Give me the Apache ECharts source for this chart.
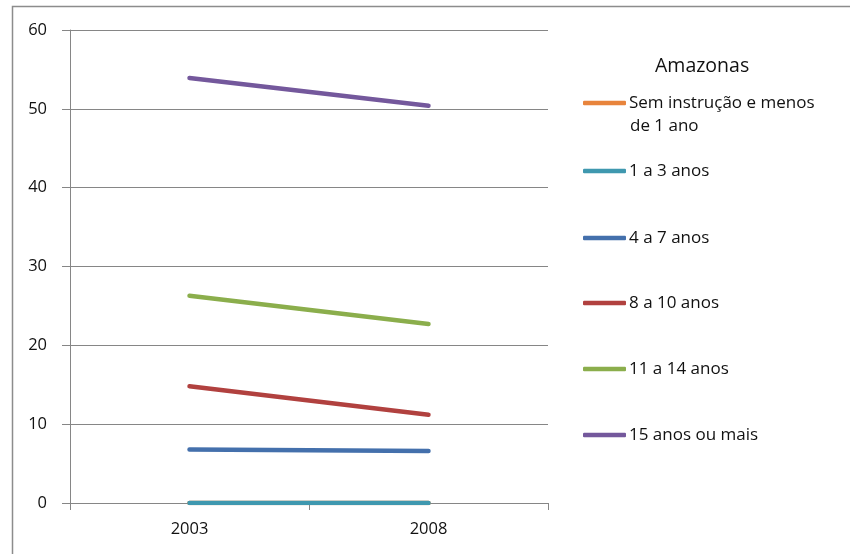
<!DOCTYPE html>
<html>
<head>
<meta charset="utf-8">
<script src="https://cdn.jsdelivr.net/npm/echarts@6/dist/echarts.min.js"></script>
<style>html,body{margin:0;padding:0;background:#fff;}#c{width:850px;height:554px;}</style>
</head>
<body>
<div id="c"></div>
<script>
var categories = ['2003', '2008'];
var seriesNames = ['Sem instrução e menos de 1 ano', '1 a 3 anos', '4 a 7 anos', '8 a 10 anos', '11 a 14 anos', '15 anos ou mais'];
var semInstrucao = [0, 0];
var anos1a3 = [0, 0];
var anos4a7 = [6.8, 6.6];
var anos8a10 = [14.8, 11.2];
var anos11a14 = [26.3, 22.7];
var anos15mais = [53.9, 50.4];
var yTicks = [0, 10, 20, 30, 40, 50, 60];
var legendTitle = 'Amazonas';

var colors = ['#E8843C', '#3F98AF', '#4470AC', '#B1413F', '#8BAE4C', '#74589C'];
var values = [semInstrucao, anos1a3, anos4a7, anos8a10, anos11a14, anos15mais];
var legendY = [102, 170, 237, 302, 368, 434];
var FONT = 'Open Sans';

var series = seriesNames.map(function (n, i) {
  return {
    name: n, type: 'line', data: values[i], symbol: 'none',
    lineStyle: { width: 4.5, color: colors[i], cap: 'round' },
    itemStyle: { color: colors[i] }, z: 3 + i
  };
});

var legends = seriesNames.map(function (n, i) {
  return {
    data: [n], orient: 'vertical', left: 583, top: legendY[i] - 11, padding: 0,
    icon: 'roundRect', itemWidth: 43, itemHeight: 4.5,
    selectedMode: false,
    formatter: function (name) { return i === 0 ? 'Sem instrução e menos' : name; },
    textStyle: { fontFamily: FONT, fontSize: 17, color: '#111', lineHeight: 24, padding: [0, 0, 0, -2] }
  };
});

var chart = echarts.init(document.getElementById('c'));
chart.setOption({
  animation: false,
  color: colors,
  grid: { left: 70, top: 30, right: 302, bottom: 51, containLabel: false },
  legend: legends,
  xAxis: {
    type: 'category', data: categories, boundaryGap: true,
    axisLine: { lineStyle: { color: '#868686', width: 1 } },
    axisTick: { show: true, length: 7, lineStyle: { color: '#868686' } },
    axisLabel: { fontFamily: FONT, fontSize: 16.5, color: '#111', margin: 18 },
    splitLine: { show: false }
  },
  yAxis: {
    type: 'value', min: yTicks[0], max: yTicks[yTicks.length - 1], interval: 10,
    axisLine: { show: true, lineStyle: { color: '#868686', width: 1 } },
    axisTick: { show: true, length: 8, lineStyle: { color: '#868686' } },
    axisLabel: { fontFamily: FONT, fontSize: 16.5, color: '#111', margin: 23 },
    splitLine: { show: true, lineStyle: { color: '#868686', width: 1 } }
  },
  graphic: [
    { type: 'rect', shape: { x: 12.5, y: 6.5, width: 900, height: 700 }, style: { fill: 'none', stroke: '#8c8c8c', lineWidth: 1.5 }, silent: true, z: -1 },
    { type: 'text', left: 655, top: 56, style: { text: legendTitle, fontFamily: FONT, fontSize: 19.5, fill: '#111' } },
    { type: 'text', left: 630, top: 118, style: { text: 'de 1 ano', fontFamily: FONT, fontSize: 17, fill: '#111' } }
  ],
  series: series
});
</script>
</body>
</html>
